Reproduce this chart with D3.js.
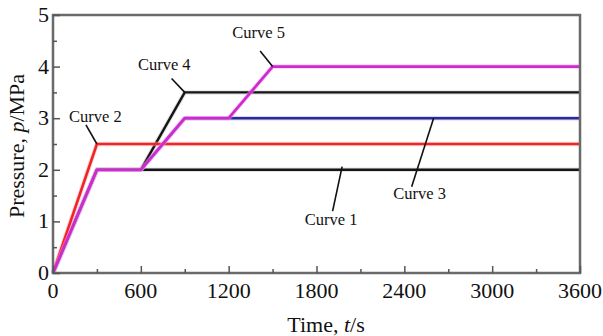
<!DOCTYPE html>
<html>
<head>
<meta charset="utf-8">
<script src="https://cdn.jsdelivr.net/npm/d3@7"></script>
<style>
  body { margin: 0; background: #fff; }
  svg text { font-family: "Liberation Serif", "Times New Roman", serif; fill: #111; }
</style>
</head>
<body>
<svg id="chart" width="603" height="336"></svg>
<script>
// time (s) and pressure (MPa) for each loading path
const curve1 = [[0, 0], [300, 2], [3600, 2]];
const curve2 = [[0, 0], [300, 2.5], [3600, 2.5]];
const curve3 = [[0, 0], [300, 2], [600, 2], [900, 3], [3600, 3]];
const curve4 = [[0, 0], [300, 2], [600, 2], [900, 3.5], [3600, 3.5]];
const curve5 = [[0, 0], [300, 2], [600, 2], [900, 3], [1200, 3], [1500, 4], [3600, 4]];

const xTicks = [0, 600, 1200, 1800, 2400, 3000, 3600];
const yTicks = [0, 1, 2, 3, 4, 5];

// label text, anchor point on curve, label position (data units)
const labelNames = ['Curve 1', 'Curve 2', 'Curve 3', 'Curve 4', 'Curve 5'];
const labelAnchor = [[1975, 2.06], [300, 2.5], [2600, 3], [900, 3.5], [1500, 4]];
const labelLeader = [[1910, 1.2], [225, 2.87], [2450, 1.67], [810, 3.77], [1415, 4.3]];
const labelText = [[1900, 1.0], [290, 3.0], [2505, 1.5], [760, 4.0], [1405, 4.63]];

const svg = d3.select('#chart');
const margin = { left: 53, right: 23, top: 15, bottom: 63 };
const width = 603, height = 336;

const x = d3.scaleLinear().domain([0, 3600]).range([margin.left, width - margin.right]);
const y = d3.scaleLinear().domain([0, 5]).range([height - margin.bottom, margin.top]);

const line = d3.line().x(d => x(d[0])).y(d => y(d[1]));

// curves, drawn back to front
const series = [
  { data: curve1, color: '#151515', halo: '#c8c8c8', w: 2.4 },
  { data: curve3, color: '#2a2a9c', halo: '#b0b0f0', w: 2.4 },
  { data: curve4, color: '#151515', halo: '#c8c8c8', w: 2.4 },
  { data: curve2, color: '#f02626', halo: '#ffb0b0', w: 2.6 },
  { data: curve5, color: '#cc2ccc', halo: '#ffa0ff', w: 2.8 }
];

const plot = svg.append('g');
series.forEach(s => {
  plot.append('path').attr('d', line(s.data))
    .attr('fill', 'none').attr('stroke', s.halo).attr('stroke-width', 4.5)
    .attr('stroke-opacity', 0.5).attr('stroke-linejoin', 'round');
  plot.append('path').attr('d', line(s.data))
    .attr('fill', 'none').attr('stroke', s.color).attr('stroke-width', s.w)
    .attr('stroke-linejoin', 'round');
});

// frame
svg.append('rect')
  .attr('x', x(0)).attr('y', y(5))
  .attr('width', x(3600) - x(0)).attr('height', y(0) - y(5))
  .attr('fill', 'none').attr('stroke', '#6a6a6a').attr('stroke-width', 2.5);

// inward ticks (major + minor)
const xAxis = d3.axisBottom(x).tickValues(d3.range(0, 3601, 300))
  .tickSize(0).tickFormat('');
const gx = svg.append('g').attr('transform', `translate(0,${y(0)})`).call(xAxis);
gx.select('.domain').remove();
gx.selectAll('.tick line').attr('y2', d => d % 600 === 0 ? -7 : -4)
  .attr('stroke', '#555').attr('stroke-width', 1.5);

const yAxis = d3.axisLeft(y).tickValues(d3.range(0, 5.01, 0.5))
  .tickSize(0).tickFormat('');
const gy = svg.append('g').attr('transform', `translate(${x(0)},0)`).call(yAxis);
gy.select('.domain').remove();
gy.selectAll('.tick line').attr('x2', d => d % 1 === 0 ? 7 : 4)
  .attr('stroke', '#555').attr('stroke-width', 1.5);

// tick labels
svg.append('g').selectAll('text').data(xTicks).join('text')
  .attr('x', d => x(d)).attr('y', 298)
  .attr('text-anchor', 'middle').attr('font-size', 22)
  .text(d => d);

svg.append('g').selectAll('text').data(yTicks).join('text')
  .attr('x', 49).attr('y', d => y(d) + 7)
  .attr('text-anchor', 'end').attr('font-size', 22)
  .text(d => d);

// axis titles
const xt = svg.append('text').attr('x', 326).attr('y', 332)
  .attr('text-anchor', 'middle').attr('font-size', 22);
xt.append('tspan').text('Time, ');
xt.append('tspan').attr('font-style', 'italic').text('t');
xt.append('tspan').text('/s');

const yt = svg.append('text').attr('transform', 'translate(24,146) rotate(-90)')
  .attr('text-anchor', 'middle').attr('font-size', 22);
yt.append('tspan').text('Pressure, ');
yt.append('tspan').attr('font-style', 'italic').text('p');
yt.append('tspan').text('/MPa');

// curve annotations
const notes = svg.append('g');
labelNames.forEach((name, i) => {
  notes.append('line')
    .attr('x1', x(labelLeader[i][0])).attr('y1', y(labelLeader[i][1]))
    .attr('x2', x(labelAnchor[i][0])).attr('y2', y(labelAnchor[i][1]))
    .attr('stroke', '#111').attr('stroke-width', 1.6);
  notes.append('text')
    .attr('x', x(labelText[i][0])).attr('y', y(labelText[i][1]))
    .attr('text-anchor', 'middle').attr('dominant-baseline', 'middle')
    .attr('font-size', 16.5)
    .text(name);
});
</script>
</body>
</html>
